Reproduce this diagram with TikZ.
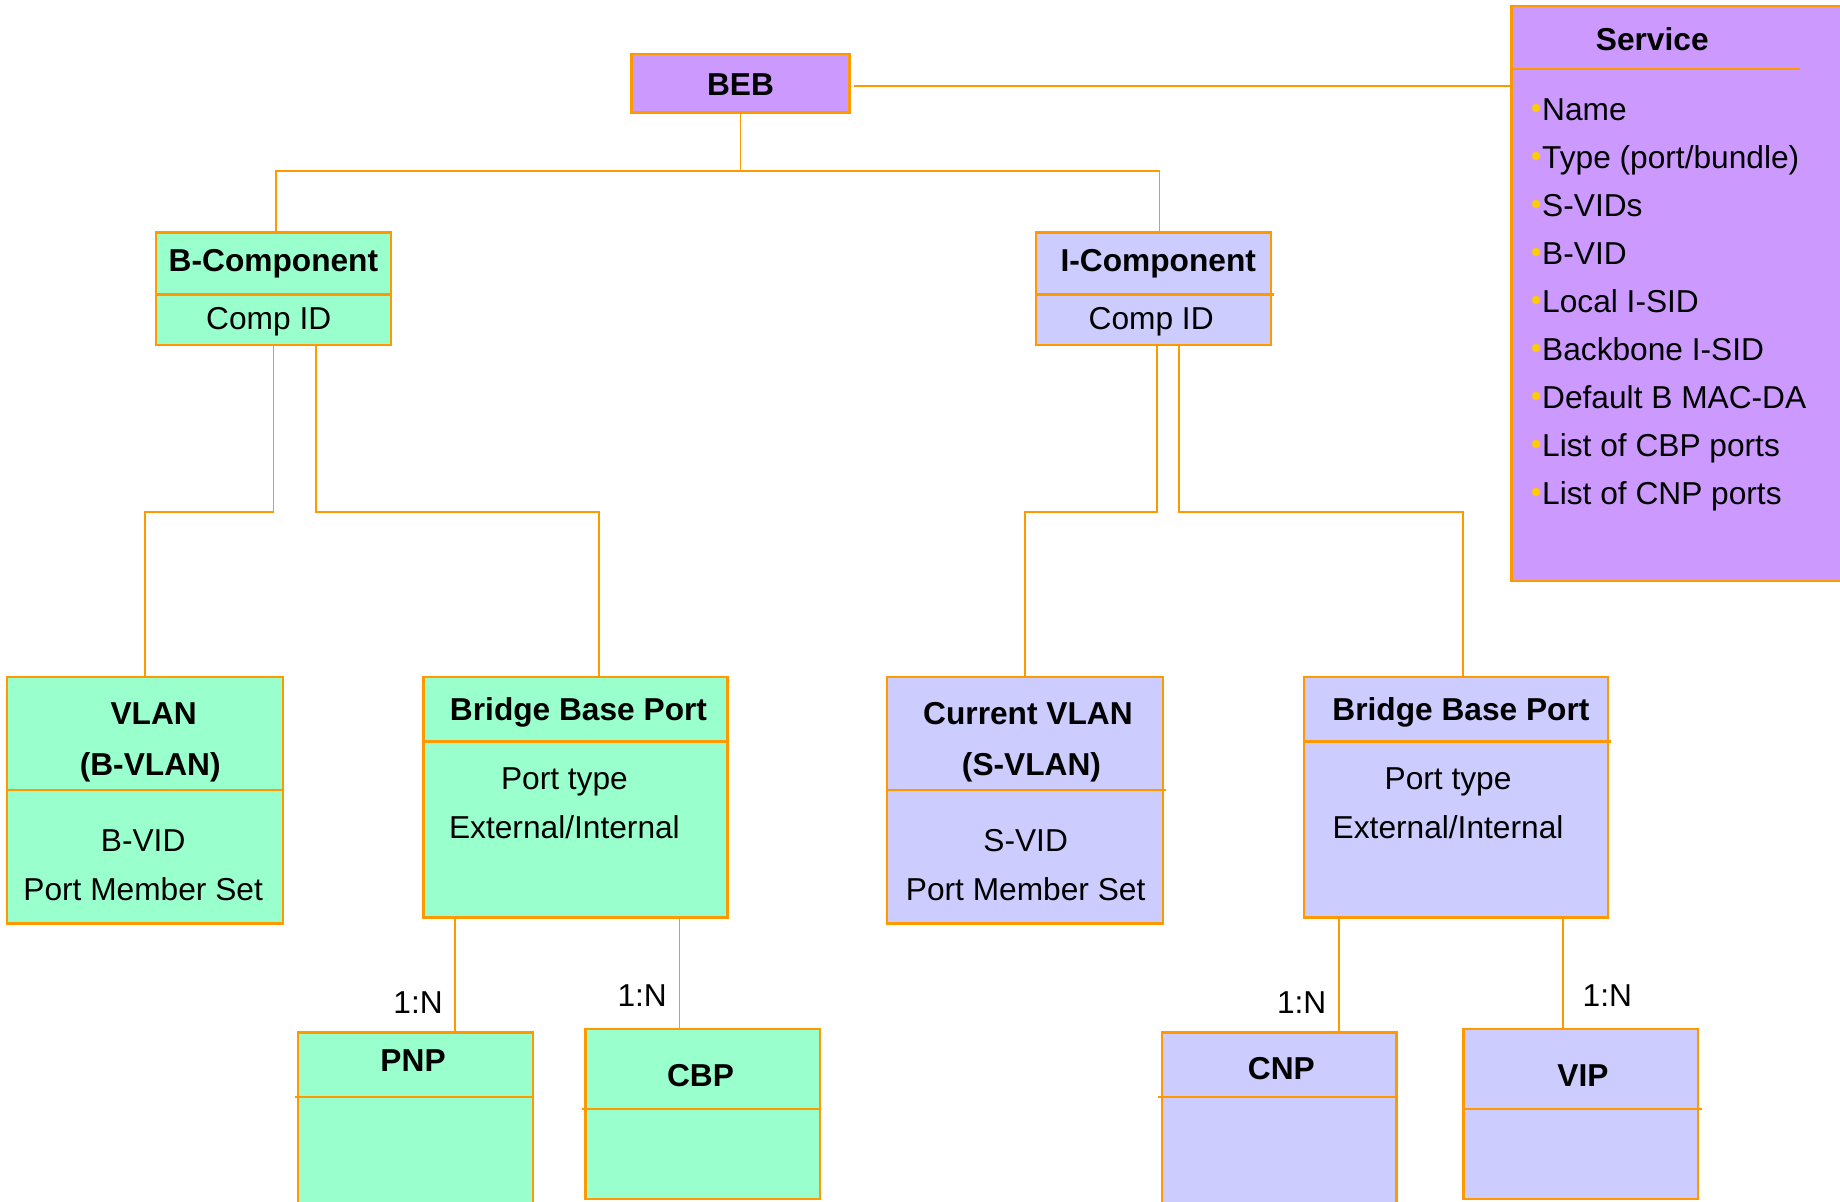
\documentclass[tikz,border=0pt]{standalone}
\usepackage{fontspec}
\setmainfont{Liberation Sans}
\usetikzlibrary{calc}
\definecolor{lorange}{HTML}{FF9900}
\definecolor{lpurple}{HTML}{CC99FF}
\definecolor{lgreen}{HTML}{99FFCC}
\definecolor{llavender}{HTML}{CCCCFF}
\definecolor{lyellow}{HTML}{FFCC00}
\tikzset{%
    % style for every box of the model
    box/.style={%
        draw=lorange,
        line width=2pt,
        inner sep=0pt,
        outer sep=0pt,
        anchor=north west,
    },
    % boxes of the bridge itself and the service
    bridge box/.style={box, fill=lpurple},
    % boxes belonging to the B-Component
    b box/.style={box, fill=lgreen},
    % boxes belonging to the I-Component
    i box/.style={box, fill=llavender},
    % line between header and fields of a box
    divider/.style={%
        lorange,
        line width=2pt,
    },
    % style for the links between boxes
    link/.style={%
        lorange,
        line width=1.5pt,
    },
    % plain text
    txt/.style={%
        font=\fontsize{27pt}{32pt}\selectfont,
        text=black,
        text height=19.5pt,
        text depth=0pt,
        inner sep=0pt,
    },
    % header text of a box
    head/.style={%
        txt,
        font=\fontsize{27pt}{32pt}\selectfont\bfseries,
    },
    % cardinality of a link
    card/.style={txt},
    % bullet of the service list
    bullet/.style={%
        fill=lyellow,
    },
}

\begin{document}
\begin{tikzpicture}[x=1pt, y=-1pt]
    % fix the size of the page, boxes at the border are cut
    \useasboundingbox (0,0) rectangle (1568,1024);
    % draw boxes
    \node (beb) [bridge box, minimum width=186pt, minimum height=50pt]
          at (538,46) {};
    \node (service) [bridge box, minimum width=300pt, minimum height=490pt]
          at (1288,5) {};
    \node (bcomp) [b box, minimum width=200pt, minimum height=96pt]
          at (133,198) {};
    \node (icomp) [i box, minimum width=200pt, minimum height=96pt]
          at (883,198) {};
    \node (bvlan) [b box, minimum width=235pt, minimum height=210pt]
          at (6,577) {};
    \node (bport) [b box, minimum width=259pt, minimum height=205pt]
          at (361,577) {};
    \node (svlan) [i box, minimum width=235pt, minimum height=210pt]
          at (756,577) {};
    \node (iport) [i box, minimum width=259pt, minimum height=205pt]
          at (1111,577) {};
    \node (pnp) [b box, minimum width=200pt, minimum height=160pt]
          at (254,880) {};
    \node (cbp) [b box, minimum width=200pt, minimum height=145pt]
          at (499,877) {};
    \node (cnp) [i box, minimum width=200pt, minimum height=160pt]
          at (990,880) {};
    \node (vip) [i box, minimum width=200pt, minimum height=145pt]
          at (1247,877) {};
    % dividers
    \draw [divider] (1290,59) -- (1534,59);
    \draw [divider] ([yshift=-53pt]bcomp.north west)
          -- ([yshift=-53pt]bcomp.north east);
    \draw [divider] ([yshift=-53pt]icomp.north west)
          -- ([yshift=-53pt,xshift=3pt]icomp.north east);
    \draw [divider] ([yshift=-96pt]bvlan.north west)
          -- ([yshift=-96pt]bvlan.north east);
    \draw [divider] ([yshift=-96pt]svlan.north west)
          -- ([yshift=-96pt,xshift=3pt]svlan.north east);
    \draw [divider] ([yshift=-55pt]bport.north west)
          -- ([yshift=-55pt]bport.north east);
    \draw [divider] ([yshift=-55pt]iport.north west)
          -- ([yshift=-55pt,xshift=3pt]iport.north east);
    \draw [divider] ([yshift=-55pt,xshift=-3pt]pnp.north west)
          -- ([yshift=-55pt]pnp.north east);
    \draw [divider] ([yshift=-68pt,xshift=-3pt]cbp.north west)
          -- ([yshift=-68pt]cbp.north east);
    \draw [divider] ([yshift=-55pt,xshift=-3pt]cnp.north west)
          -- ([yshift=-55pt]cnp.north east);
    \draw [divider] ([yshift=-68pt]vip.north west)
          -- ([yshift=-68pt,xshift=3pt]vip.north east);
    % texts
    \node (beb-t) [head] at (631,72) {BEB};
    \node (service-t) [head] at (1408,33) {Service};
    \node (bcomp-t) [head] at (233,222) {B-Component};
    \node (bcomp-f) [txt] at (229,271) {Comp ID};
    \node (icomp-t) [head] at (987,222) {I-Component};
    \node (icomp-f) [txt] at (981,271) {Comp ID};
    \node (bvlan-t) [head] at (131,608) {VLAN};
    \node (bvlan-u) [head] at (128,651) {(B-VLAN)};
    \node (bvlan-f) [txt] at (122,716) {B-VID};
    \node (bvlan-g) [txt] at (122,758) {Port Member Set};
    \node (bport-t) [head] at (493,604) {Bridge Base Port};
    \node (bport-f) [txt] at (481,663) {Port type};
    \node (bport-g) [txt] at (481,705) {External/Internal};
    \node (svlan-t) [head] at (876,608) {Current VLAN};
    \node (svlan-u) [head] at (879,651) {(S-VLAN)};
    \node (svlan-f) [txt] at (874,716) {S-VID};
    \node (svlan-g) [txt] at (874,758) {Port Member Set};
    \node (iport-t) [head] at (1245,604) {Bridge Base Port};
    \node (iport-f) [txt] at (1234,663) {Port type};
    \node (iport-g) [txt] at (1234,705) {External/Internal};
    \node (pnp-t) [head] at (352,903) {PNP};
    \node (cbp-t) [head] at (597,916) {CBP};
    \node (cnp-t) [head] at (1092,910) {CNP};
    \node (vip-t) [head] at (1349,916) {VIP};
    %% attributes of the service
    \foreach \attr [count=\i] in {Name, Type (port/bundle), S-VIDs, B-VID,
        Local I-SID, Backbone I-SID, Default B MAC-DA, List of CBP ports,
        List of CNP ports}{
        \node (attr-\i) [txt, anchor=west] at (1314,{52.1+40.9*\i}) {\attr};
        \fill [bullet] ($(attr-\i.west)+(-5,-1)$) circle (3.6);
    }
    % links
    %% bridge to service
    \draw [link] ([xshift=4pt,yshift=-2pt]beb.east)
          -- ([yshift=-2pt]beb.east -| service.west);
    %% bridge to components
    \coordinate (split) at (631,146);
    \draw [link] (beb.south) -- (split);
    \draw [link] ([xshift=2pt]bcomp.north) |- (split)
          -| ([xshift=5pt]icomp.north);
    %% B-Component to its parts
    \draw [link] (bcomp.south) -- ++(0,142) -| (bvlan.north);
    \draw [link] ([xshift=36pt]bcomp.south) -- ++(0,142)
          -| ([xshift=20pt]bport.north);
    %% I-Component to its parts
    \draw [link] ([xshift=3pt]icomp.south) -- ++(0,142) -| (svlan.north);
    \draw [link] ([xshift=22pt]icomp.south) -- ++(0,142)
          -| ([xshift=6.5pt]iport.north);
    %% ports, 1:N
    \coordinate (pnp-up) at ($(pnp.north)+(34,0)$);
    \coordinate (cbp-up) at ($(cbp.north)+(-20,0)$);
    \coordinate (cnp-up) at ($(cnp.north)+(51,0)$);
    \coordinate (vip-up) at ($(vip.north)+(-15,0)$);
    \draw [link] (pnp-up |- bport.south)
          -- node (pnp-c) [card, pos=.73, left=10pt] {1:N} (pnp-up);
    \draw [link] (cbp-up |- bport.south)
          -- node (cbp-c) [card, pos=.69, left=10pt] {1:N} (cbp-up);
    \draw [link] (cnp-up |- iport.south)
          -- node (cnp-c) [card, pos=.73, left=10pt] {1:N} (cnp-up);
    \draw [link] (vip-up |- iport.south)
          -- node (vip-c) [card, pos=.69, right=16pt] {1:N} (vip-up);
\end{tikzpicture}
\end{document}
